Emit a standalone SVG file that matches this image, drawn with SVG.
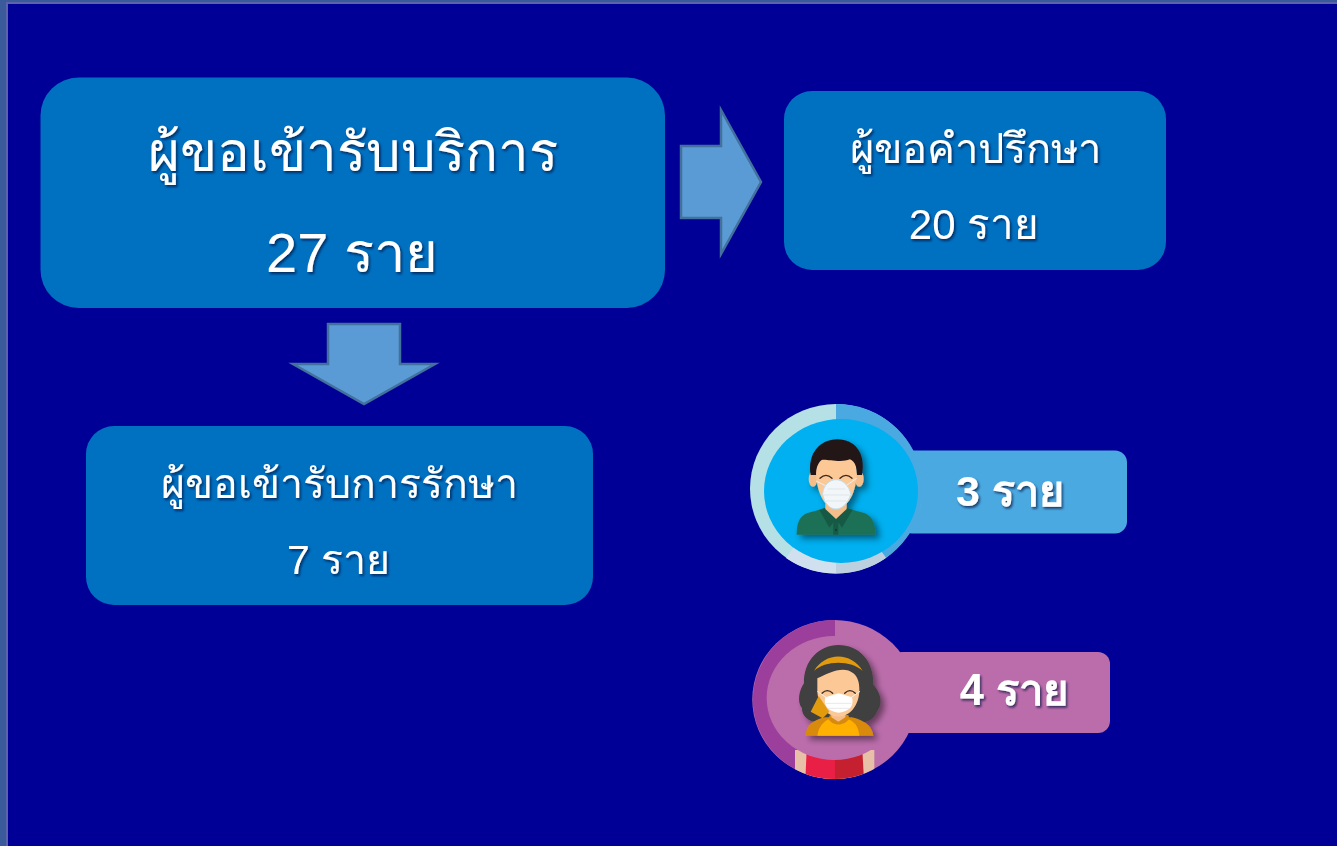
<svg xmlns="http://www.w3.org/2000/svg" width="1337" height="846" viewBox="0 0 1337 846">
<style>
.box{fill:#0070c0}
.arrow{fill:#5b9bd5;stroke:#41719c;stroke-width:2.5}
text{font-family:"Liberation Sans","DejaVu Sans",sans-serif;fill:#fff;text-anchor:middle;filter:url(#ts)}
.badge{font-weight:700}
.eye{fill:none;stroke:#3a2a22;stroke-width:4;stroke-linecap:round}
</style>
<defs>
<filter id="ts" x="-10%" y="-20%" width="125%" height="150%"><feDropShadow dx="1.500" dy="2" stdDeviation="1.200" flood-color="#001040" flood-opacity=".7"/></filter>
<filter id="fs" x="-20%" y="-20%" width="150%" height="150%"><feDropShadow dx="12" dy="12" stdDeviation="9" flood-color="#000" flood-opacity=".45"/></filter>
<clipPath id="c2"><ellipse cx="283" cy="268.500" rx="246" ry="238.500"/></clipPath>
</defs>
<rect width="1337" height="846" fill="#000096"/>
<path d="M0 0H1337V2H7V846H0Z" fill="#3a5a9c"/>
<path d="M6 2H1337V4H8V846H6Z" fill="#5c64a8"/>

<g id="connectors">
<path class="arrow" d="M681 146H721V110L761 182L721 254V218H681Z"/>
<path class="arrow" d="M328 324H400V364H435L364 404L293 364H328Z"/>
</g>

<g id="node-total">
<rect class="box" x="40.500" y="77.500" width="624.500" height="230.500" rx="38"/>
<text x="353" y="171" font-size="54.500">ผู้ขอเข้ารับบริการ</text>
<text x="352" y="272" font-size="56">27 ราย</text>
</g>
<g id="node-consult">
<rect class="box" x="784" y="91" width="382" height="179" rx="28"/>
<text x="975" y="163" font-size="41.700">ผู้ขอคำปรึกษา</text>
<text x="974" y="239" font-size="42">20 ราย</text>
</g>
<g id="node-treat">
<rect class="box" x="86" y="426" width="507" height="179" rx="28"/>
<text x="339" y="498" font-size="41">ผู้ขอเข้ารับการรักษา</text>
<text x="338.500" y="574" font-size="41">7 ราย</text>
</g>

<g id="node-male">
<rect x="900" y="450.500" width="227" height="83" rx="12" fill="#4aa9e0"/>
<ellipse cx="836" cy="488.700" rx="86" ry="84.700" fill="#b4e0e6"/>
<path d="M836 488.700V404A86 84.700 0 0 1 886 558Z" fill="#4aa9e0"/>
<path d="M836 488.700L886 558A86 84.700 0 0 1 836 573.400Z" fill="#bcd0e0"/>
<path d="M836 488.700V573.400A86 84.700 0 0 1 786 558Z" fill="#d0e0ee"/>
<ellipse cx="841" cy="491" rx="77" ry="72" fill="#00b0f0"/>
<g transform="translate(740 395) scale(.33333)">
<g filter="url(#fs)">
<path d="M170 419C170 385 178 365 200 355L255 340H320L375 355C397 365 405 385 407 419Z" fill="#1f6f55"/>
<path d="M238 344L255 338L288 372L320 338L338 344L306 398L288 372L268 398Z" fill="#175a45"/>
<path d="M280 372H295V419H280Z" fill="#175a45"/>
<path d="M256 310H320V342L288 372L256 342Z" fill="#f5bd8a"/>
<ellipse cx="219" cy="252" rx="13" ry="23" fill="#f5bd8a"/>
<ellipse cx="358" cy="252" rx="13" ry="23" fill="#f5bd8a"/>
<path d="M228 225C228 190 250 180 288 180C330 180 350 195 350 230C350 290 325 340 288 340C252 340 228 290 228 225Z" fill="#fcc896"/>
<path d="M212 240C202 175 240 133 292 133C345 133 378 175 366 240L351 240C351 215 345 200 330 193C300 205 255 190 245 195C232 205 228 222 228 240Z" fill="#231418"/>
<path class="eye" d="M240 250Q258 232 276 250M300 250Q318 232 336 250"/>
<path d="M228 258L262 275M350 250L318 272" stroke="#e8f0f4" stroke-width="3" fill="none"/>
<path d="M248 296C250 270 270 254 288 254C308 254 328 272 332 298C325 325 305 342 288 342C270 342 252 325 248 296Z" fill="#f2f6f8" stroke="#bfe0f0" stroke-width="3"/>
<path d="M252 300H328M258 318H320M262 282H316" stroke="#d4dfe6" stroke-width="2" fill="none"/>
<circle cx="288" cy="405" r="3" fill="#0f3d30"/>
</g>
</g>
<text class="badge" x="1010" y="506" font-size="43">3 ราย</text>
</g>

<g id="node-female">
<rect x="890" y="652" width="220" height="81" rx="12" fill="#bb6dab"/>
<ellipse cx="834.300" cy="699.500" rx="82" ry="79.500" fill="#bb6dab"/>
<path d="M835 699.500V620A82 79.500 0 0 0 795 769Z" fill="#9c3f9c"/>
<g transform="translate(740 610) scale(.33333)">
<g clip-path="url(#c2)">
<path d="M165 420H403V510H165Z" fill="#e8c0a8"/>
<path d="M200 420H285V510H196Z" fill="#ea1f45"/>
<path d="M285 420H367L372 510H285Z" fill="#c4202f"/>
</g>
<ellipse cx="283" cy="264" rx="203" ry="186" fill="#bb6dab"/>
<g filter="url(#fs)">
<path d="M192 220C190 150 240 105 295 105C355 105 402 150 400 225C420 245 432 280 410 305C400 335 370 340 350 335H240C210 340 185 320 186 295C170 275 178 240 192 220Z" fill="#3f3f3f"/>
<path d="M196 377C198 345 220 330 255 322H335C370 330 395 345 400 377Z" fill="#d88a10"/>
<path d="M232 377C236 350 250 336 265 328H325C345 336 355 350 358 377Z" fill="#ffb000"/>
<path d="M265 325C275 350 315 350 328 325L325 315H270Z" fill="#d88a10"/>
<path d="M274 290H316V322L295 335L274 322Z" fill="#f5bd8a"/>
<path d="M232 205C265 190 310 165 340 190C352 200 358 215 358 240C358 285 330 320 295 320C260 320 232 285 232 240Z" fill="#fcc896"/>
<path d="M222 183C255 125 335 125 368 183C335 150 255 150 222 183Z" fill="#e29b10"/>
<path d="M236 258L212 305L248 325L268 305Z" fill="#e29b10"/>
<path class="eye" d="M246 250Q262 234 278 250M314 250Q330 234 346 250"/>
<path d="M232 244L258 262M360 244L334 262" stroke="#f0f0f0" stroke-width="3" fill="none"/>
<path d="M256 262L296 250L336 262C342 285 332 305 296 308C262 305 250 285 256 262Z" fill="#fff"/>
<path d="M258 280H334M262 295H328" stroke="#dcdcdc" stroke-width="2" fill="none"/>
</g>
</g>
<text class="badge" x="1014" y="705" font-size="43.500">4 ราย</text>
</g>
</svg>
